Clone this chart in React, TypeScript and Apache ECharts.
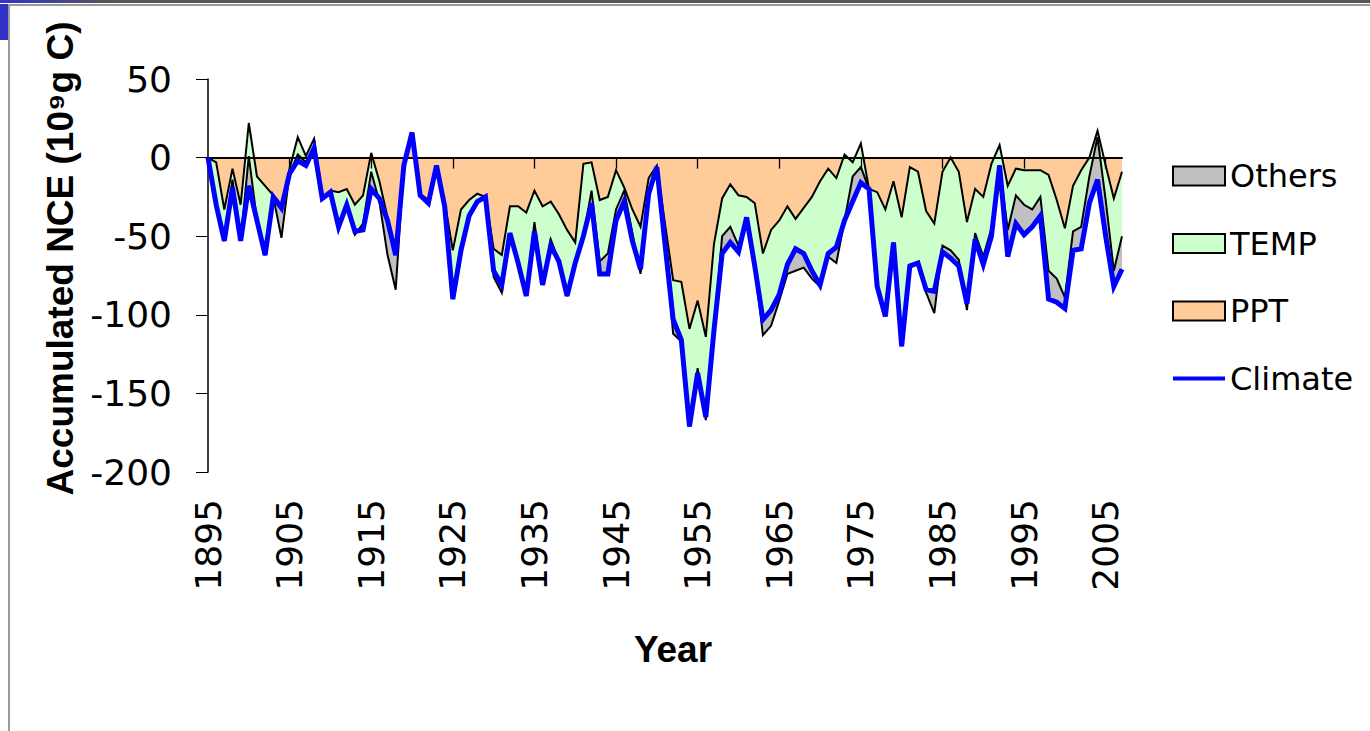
import React, { useEffect, useRef } from "react";
import * as echarts from "echarts";

const firstYear = 1895;
const lastYear = 2007;
const years: string[] = [];
for (let y = firstYear; y <= lastYear; y++) years.push(String(y));

// PPT contribution (bottom of the orange band)
const ppt: number[] = [
  0, -3, -33, -7, -30, 22, -12, -18, -24, -30,
  -7, 13, 1, 12, -26, -21, -22, -20, -30, -24,
  3, -15, -38, -60, -5, 14, -23, -27, -5, -28,
  -59, -33, -27, -23, -25, -58, -62, -31, -31, -35,
  -21, -31, -28, -36, -46, -54, -4, -3, -27, -25,
  -8, -19, -33, -44, -13, -5, -42, -78, -79, -109,
  -91, -114, -55, -26, -17, -24, -25, -29, -61, -46,
  -40, -31, -39, -32, -25, -15, -7, -13, 2, -3,
  9, -20, -22, -33, -15, -38, -6, -9, -34, -42,
  -9, 0, -9, -41, -20, -25, -4, 8, -18, -7,
  -8, -8, -8, -11, -27, -45, -18, -8, 0, 17,
  -5, -26, -9,
];

// TEMP contribution (stacked on PPT)
const temp: number[] = [
  0, -27, -20, -12, -23, -40, -28, -44, -1, -2,
  -3, -15, -6, -6, 0, -1, -22, -10, -17, -22,
  -23, -11, -2, -2, 0, 2, -1, -2, 0, -3,
  -31, -26, -10, -5, 0, -14, -19, -17, -36, -53,
  -26, -50, -28, -30, -42, -13, -46, -26, -47, -49,
  -32, -9, -20, -27, -10, -1, -13, -25, -37, -62,
  -46, -51, -55, -35, -37, -36, -13, -40, -42, -51,
  -47, -37, -19, -29, -47, -66, -54, -44, -42, -25,
  -25, 0, -60, -68, -39, -82, -63, -58, -50, -43,
  -51, -64, -60, -52, -32, -43, -46, -13, -45, -35,
  -41, -36, -29, -79, -65, -51, -41, -50, -29, -31,
  -45, -56, -62,
];

// Others contribution (stacked on PPT + TEMP)
const others: number[] = [
  0, 0, 0, 5, 0, 19, 0, 0, 0, -19,
  0, 4, 2, 0, 0, 0, 0, 0, -2, 4,
  11, -2, -22, -22, 0, 0, 0, 0, 0, 0,
  0, 0, 0, 0, 0, -4, -5, 0, 0, 0,
  6, 2, 4, 0, 0, 0, 0, 8, 8, 13,
  7, 7, 5, -3, 0, 0, 0, -9, -1, 0,
  3, -2, 0, 11, 10, 4, 0, 0, -10, -10,
  -4, -6, -14, -9, -5, -1, -2, -10, 0, 16,
  10, 0, 0, 0, 0, 0, 1, 0, -2, -14,
  4, 5, 4, -4, 4, 5, 5, 0, 17, 18,
  19, 11, 12, 18, 15, 7, 12, 14, 17, 27,
  23, 10, 21,
];

// Climate (blue line)
const climate: number[] = [
  0, -30, -53, -19, -53, -18, -40, -62, -25, -32,
  -10, -2, -5, 6, -26, -22, -44, -30, -47, -46,
  -20, -26, -40, -62, -5, 16, -24, -29, -5, -31,
  -90, -59, -37, -28, -25, -72, -81, -48, -67, -88,
  -47, -81, -56, -66, -88, -67, -50, -29, -74, -74,
  -40, -28, -53, -71, -23, -6, -55, -103, -116, -171,
  -137, -165, -110, -61, -54, -60, -38, -69, -103, -97,
  -87, -68, -58, -61, -72, -81, -61, -57, -40, -28,
  -16, -20, -82, -101, -54, -120, -69, -67, -84, -85,
  -60, -64, -69, -93, -52, -68, -50, -5, -63, -42,
  -49, -44, -37, -90, -92, -96, -59, -58, -29, -14,
  -50, -82, -71,
];

const yTicks = { min: -200, max: 50, interval: 50 };

const COLORS = {
  ppt: "#FFCC99",
  temp: "#CCFFCC",
  others: "#C0C0C0",
  climate: "#0000FF",
};

const numFont = "'DejaVu Sans', sans-serif";
const titleFont = "'Liberation Sans', Arial, 'DejaVu Sans', sans-serif";

function areaSeries(name: string, data: number[], color: string) {
  return {
    name,
    type: "line",
    data,
    stack: "total",
    stackStrategy: "all",
    xAxisIndex: 0,
    yAxisIndex: 0,
    symbol: "none",
    showSymbol: false,
    silent: true,
    z: 2,
    lineStyle: { color: "#000", width: 2, join: "miter", miterLimit: 10 },
    areaStyle: { color, opacity: 1 },
    itemStyle: { color },
    emphasis: { disabled: true },
  };
}

export default function App() {
  const ref = useRef<HTMLDivElement>(null);

  useEffect(() => {
    if (!ref.current) return;
    const chart = echarts.init(ref.current, undefined, { renderer: "svg" });
    const option: any = {
      animation: false,
      backgroundColor: "#ffffff",
      textStyle: { fontFamily: numFont },
      grid: { left: 208, right: 248, top: 79, bottom: 259, containLabel: false },
      legend: {
        orient: "vertical",
        left: 1172,
        top: 160,
        padding: 0,
        itemWidth: 52,
        itemHeight: 19,
        itemGap: 35.5,
        selectedMode: false,
        textStyle: { fontSize: 32, lineHeight: 31, color: "#000", fontFamily: numFont },
        data: [
          { name: "Others", icon: "rect", itemStyle: { color: COLORS.others, borderColor: "#000", borderWidth: 2 } },
          { name: "TEMP", icon: "rect", itemStyle: { color: COLORS.temp, borderColor: "#000", borderWidth: 2 } },
          { name: "PPT", icon: "rect", itemStyle: { color: COLORS.ppt, borderColor: "#000", borderWidth: 2 } },
          { name: "Climate", icon: "path://M0,0L52,0L52,4L0,4Z", itemStyle: { color: COLORS.climate, borderWidth: 0 } },
        ],
      },
      xAxis: [
        {
          type: "category",
          data: years,
          boundaryGap: false,
          position: "bottom",
          axisLine: { show: false, onZero: false },
          axisTick: { show: false },
          splitLine: { show: false },
          axisLabel: { interval: 9, rotate: 90, margin: 27, fontSize: 36, color: "#000", fontFamily: numFont },
          name: "Year",
          nameLocation: "middle",
          nameGap: 159,
          nameTextStyle: { fontFamily: titleFont, fontWeight: "bold", fontSize: 37, color: "#000", padding: [0, 0, 0, 16] },
        },
        {
          type: "category",
          data: years,
          boundaryGap: false,
          position: "bottom",
          z: 3,
          axisLine: { show: true, onZero: true, lineStyle: { color: "#000", width: 2 } },
          axisTick: { show: true, interval: 9, length: 11, lineStyle: { color: "#000", width: 1.3 } },
          axisLabel: { show: false },
          splitLine: { show: false },
        },
      ],
      yAxis: {
        type: "value",
        min: yTicks.min,
        max: yTicks.max,
        interval: yTicks.interval,
        axisLine: { show: true, lineStyle: { color: "#000", width: 1.5 } },
        axisTick: { show: true, length: 12, lineStyle: { color: "#000", width: 1 } },
        splitLine: { show: false },
        axisLabel: { margin: 36, fontSize: 36, color: "#000", fontFamily: numFont },
        name: "Accumulated NCE (10\u2079g C)",
        nameLocation: "middle",
        nameGap: 121,
        nameTextStyle: { fontFamily: titleFont, fontWeight: "bold", fontSize: 37, color: "#000", padding: [0, 0, 0, 34] },
      },
      graphic: [
        {
          type: "rect",
          silent: true,
          shape: { x: 0, y: 0, width: 1370, height: 3 },
          style: {
            fill: new echarts.graphic.LinearGradient(0, 0, 1, 0, [
              { offset: 0, color: "#3333cc" },
              { offset: 0.08, color: "#555555" },
              { offset: 1, color: "#555555" },
            ]),
          },
        },
        { type: "rect", silent: true, shape: { x: 8, y: 4, width: 1362, height: 2 }, style: { fill: "#999999" } },
        { type: "rect", silent: true, shape: { x: 0, y: 4, width: 8, height: 36 }, style: { fill: "#3232c8" } },
        { type: "rect", silent: true, shape: { x: 8, y: 4, width: 2, height: 727 }, style: { fill: "#999999" } },
      ],
      series: [
        areaSeries("PPT", ppt, COLORS.ppt),
        areaSeries("TEMP", temp, COLORS.temp),
        areaSeries("Others", others, COLORS.others),
        {
          name: "Climate",
          type: "line",
          data: climate,
          xAxisIndex: 0,
          yAxisIndex: 0,
          symbol: "none",
          showSymbol: false,
          silent: true,
          z: 4,
          lineStyle: { color: COLORS.climate, width: 5, join: "miter", miterLimit: 10 },
          itemStyle: { color: COLORS.climate },
          emphasis: { disabled: true },
        },
      ],
    };
    chart.setOption(option);
    return () => chart.dispose();
  }, []);

  return (
    <div
      ref={ref}
      style={{ position: "fixed", left: 0, top: 0, width: 1370, height: 731, background: "#fff" }}
    />
  );
}
